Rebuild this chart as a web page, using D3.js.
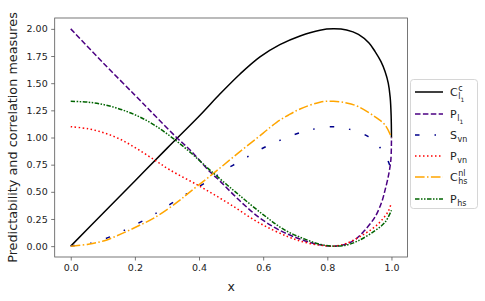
<!DOCTYPE html>
<html>
<head>
<meta charset="utf-8">
<script src="https://cdn.jsdelivr.net/npm/d3@7"></script>
<style>
  body { margin: 0; background: #fff; }
  text { font-family: "DejaVu Sans", sans-serif; }
</style>
</head>
<body>
<svg id="chart" width="485" height="301"></svg>
<script>
// values, [x, y]
const cl1 = [[0,0],[0.1,0.3],[0.2,0.6],[0.3,0.9],[0.403,1.205],[0.465,1.4],[0.528,1.585],
  [0.59,1.742],[0.652,1.855],[0.715,1.935],[0.777,1.988],[0.819,2.0],[0.86,1.99],[0.897,1.95],
  [0.93,1.87],[0.949,1.79],[0.967,1.7],[0.98,1.607],[0.99,1.5],[0.996,1.37],[0.999,1.2],[1.0,1.0]]
const pl1 = [[0,2.0],[0.1,1.69],[0.2,1.39],[0.263,1.2],[0.33,1.0],[0.372,0.885],[0.434,0.685],
  [0.465,0.6],[0.528,0.415],[0.59,0.258],[0.652,0.145],[0.715,0.065],[0.777,0.012],[0.819,0],
  [0.86,0.02],[0.891,0.07],[0.917,0.147],[0.949,0.27],[0.97,0.41],[0.98,0.516],[0.99,0.64],
  [0.998,0.79],[1.0,1.0]]
const svn = [[0,0],[0.065,0.03],[0.123,0.086],[0.175,0.157],[0.229,0.24],[0.281,0.33],[0.33,0.424],
  [0.38,0.515],[0.434,0.608],[0.484,0.707],[0.533,0.79],[0.588,0.885],[0.642,0.961],[0.7,1.03],
  [0.746,1.07],[0.813,1.1],[0.87,1.075],[0.928,1.007],[0.97,0.885],[0.99,0.78],[1.0,0.69]]
const pvn = [[0,1.1],[0.055,1.08],[0.107,1.04],[0.159,0.977],[0.21,0.89],[0.263,0.79],[0.31,0.7],
  [0.403,0.55],[0.497,0.385],[0.59,0.21],[0.678,0.086],[0.73,0.035],[0.78,0.008],[0.819,0],
  [0.86,0.025],[0.917,0.115],[0.949,0.18],[0.97,0.24],[0.99,0.32],[1.0,0.4]]
const chs = [[0,0],[0.055,0.018],[0.105,0.05],[0.159,0.115],[0.21,0.185],[0.263,0.265],[0.33,0.4],
  [0.372,0.5],[0.445,0.67],[0.517,0.845],[0.6,1.04],[0.642,1.14],[0.678,1.205],[0.715,1.262],
  [0.777,1.325],[0.819,1.334],[0.86,1.318],[0.897,1.284],[0.949,1.19],[0.98,1.115],[1.0,1.0]]
const phs = [[0,1.333],[0.055,1.325],[0.107,1.3],[0.16,1.255],[0.211,1.195],[0.263,1.11],[0.32,0.99],
  [0.372,0.865],[0.434,0.7],[0.517,0.49],[0.6,0.29],[0.668,0.147],[0.73,0.065],[0.78,0.015],
  [0.819,0],[0.86,0.01],[0.897,0.05],[0.949,0.143],[0.98,0.22],[1.0,0.33]]

const xTicks = [0, 0.2, 0.4, 0.6, 0.8, 1.0]
const yTicks = [0, 0.25, 0.5, 0.75, 1.0, 1.25, 1.5, 1.75, 2.0]

const series = [
  { data: cl1, color: "#000000", dash: null, label: ["C", "c", "l", "1"] },
  { data: pl1, color: "#4b0082", dash: "5.5,2.4", label: ["P", null, "l", "1"] },
  { data: svn, color: "#00008b", dash: "4.5,15,1.5,15", label: ["S", null, "vn", null] },
  { data: pvn, color: "#ff0000", dash: "1.5,2.5", label: ["P", null, "vn", null] },
  { data: chs, color: "#ffa500", dash: "9.6,2.4,1.5,2.4", label: ["C", "nl", "hs", null] },
  { data: phs, color: "#006400", dash: "4.5,1.5,1.5,1.5,1.5,1.5", label: ["P", null, "hs", null] }
]

const svg = d3.select("#chart")
const mLeft = 54.7, mRight = 407.5, mTop = 18, mBottom = 257

const x = d3.scaleLinear().domain([-0.05, 1.05]).range([mLeft, mRight])
const y = d3.scaleLinear().domain([-0.1, 2.1]).range([mBottom, mTop])

const line = d3.line()
  .x(d => x(d[0]))
  .y(d => y(d[1]))
  .curve(d3.curveCatmullRom.alpha(0.5))

const plot = svg.append("g")
plot.append("clipPath").attr("id", "clip")
  .append("rect").attr("x", mLeft).attr("y", mTop).attr("width", mRight - mLeft).attr("height", mBottom - mTop)

const curves = plot.append("g").attr("clip-path", "url(#clip)")
series.forEach(s => {
  curves.append("path")
    .attr("d", line(s.data))
    .attr("fill", "none")
    .attr("stroke", s.color)
    .attr("stroke-width", 1.5)
    .attr("stroke-dasharray", s.dash)
})

// axes
const xAxis = svg.append("g").attr("transform", `translate(0,${mBottom})`)
  .call(d3.axisBottom(x).tickValues(xTicks).tickFormat(d3.format(".1f")).tickSize(3.5).tickPadding(3.5))
const yAxis = svg.append("g").attr("transform", `translate(${mLeft},0)`)
  .call(d3.axisLeft(y).tickValues(yTicks).tickFormat(d3.format(".2f")).tickSize(3.5).tickPadding(3.5))

;[xAxis, yAxis].forEach(a => {
  a.select(".domain").remove()
  a.selectAll(".tick line").attr("stroke", "#555").attr("stroke-width", 0.8)
  a.selectAll(".tick text").attr("fill", "#222").style("font-size", "9.5px").style("font-family", "DejaVu Sans")
})

svg.append("rect")
  .attr("x", mLeft).attr("y", mTop).attr("width", mRight - mLeft).attr("height", mBottom - mTop)
  .attr("fill", "none").attr("stroke", "#555").attr("stroke-width", 0.8)

svg.append("text")
  .attr("x", (mLeft + mRight) / 2).attr("y", 290.5)
  .attr("text-anchor", "middle").attr("fill", "#222")
  .style("font-size", "12.5px")
  .text("x")

svg.append("text")
  .attr("transform", `translate(17,${(mTop + mBottom) / 2}) rotate(-90)`)
  .attr("text-anchor", "middle").attr("fill", "#222")
  .style("font-size", "12.8px")
  .text("Predictability and correlation measures")

// legend
const legend = svg.append("g")
legend.append("rect")
  .attr("x", 410.5).attr("y", 79.5).attr("width", 67).attr("height", 129)
  .attr("rx", 3).attr("fill", "#fff").attr("fill-opacity", 0.8)
  .attr("stroke", "#ccc").attr("stroke-width", 0.8)

const rowY = [92, 114, 135, 156, 177, 199]
series.forEach((s, i) => {
  const cy = rowY[i]
  legend.append("line")
    .attr("x1", 415).attr("x2", 443).attr("y1", cy).attr("y2", cy)
    .attr("stroke", s.color).attr("stroke-width", 1.5)
    .attr("stroke-dasharray", s.dash)
  const [base, sup, sub, subsub] = s.label
  const tx = 450, baseY = cy + 4
  const b = legend.append("text").attr("x", tx).attr("y", baseY)
    .attr("fill", "#222").style("font-size", "11px").text(base)
  const bw = b.node().getComputedTextLength()
  if (sup) {
    legend.append("text").attr("x", tx + bw + 0.5).attr("y", baseY - 5)
      .attr("fill", "#222").style("font-size", "8px").text(sup)
  }
  if (sub) {
    const st = legend.append("text").attr("x", tx + bw + 0.5).attr("y", baseY + 3)
      .attr("fill", "#222").style("font-size", "8px").text(sub)
    if (subsub) {
      const sw = st.node().getComputedTextLength()
      legend.append("text").attr("x", tx + bw + 0.5 + sw).attr("y", baseY + 5.5)
        .attr("fill", "#222").style("font-size", "6px").text(subsub)
    }
  }
})
</script>
</body>
</html>
